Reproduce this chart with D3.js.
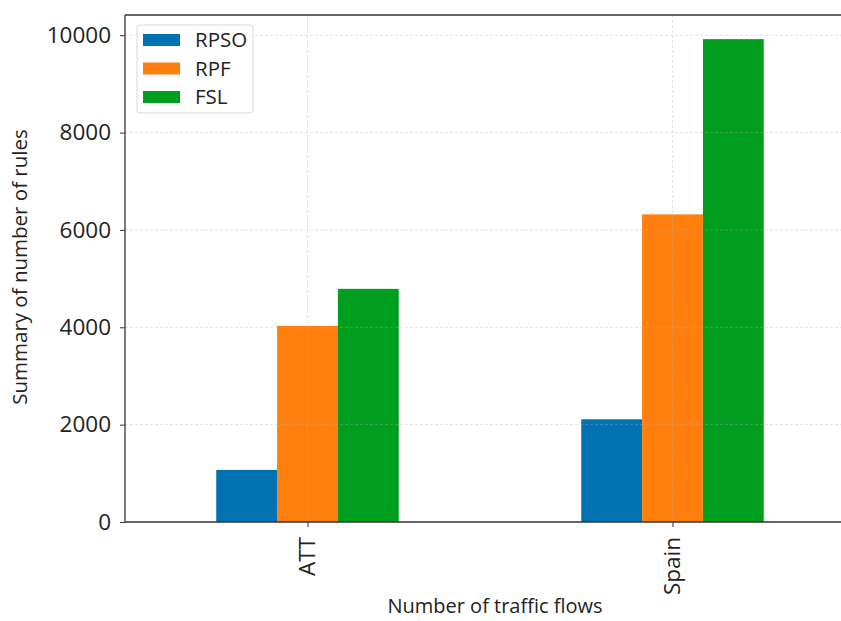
<!DOCTYPE html>
<html>
<head>
<meta charset="utf-8">
<script src="https://cdn.jsdelivr.net/npm/d3@7"></script>
<style>
html,body{margin:0;padding:0;background:#fff;overflow:hidden;}
svg{display:block;}
text{font-family:"Open Sans",sans-serif;fill:#222;}
</style>
</head>
<body>
<svg id="chart" width="841" height="621"></svg>
<script>
const categories = ["ATT", "Spain"];
const seriesNames = ["RPSO", "RPF", "FSL"];
const RPSO = [1070, 2110];
const RPF = [4030, 6320];
const FSL = [4790, 9920];
const yTicks = [0, 2000, 4000, 6000, 8000, 10000];
const colors = ["#0072b2", "#ff7f0e", "#009e1f"];

(function () {
const seriesValues = [RPSO, RPF, FSL];
const svg = d3.select("#chart");
const mLeft = 125, mTop = 15, mBottom = 522;
const unit = 365; // px per category step
const mRight = mLeft + unit * 2; // xlim -0.5 .. 1.5 (extends past the image edge)

const x = d3.scaleLinear().domain([-0.5, 1.5]).range([mLeft, mRight]);
const y = d3.scaleLinear().domain([0, 10416]).range([mBottom, mTop]);
const barW = 0.5 / 3;

// bars
seriesValues.forEach((vals, si) => {
  svg.append("g").selectAll("rect").data(vals).join("rect")
    .attr("x", (d, i) => x(i - 0.25 + si * barW))
    .attr("width", x(barW) - x(0))
    .attr("y", d => y(d))
    .attr("height", d => y(0) - y(d))
    .attr("fill", colors[si]);
});

// grid on top, faint dashed
const grid = svg.append("g").attr("stroke", "#b0b0b0").attr("stroke-opacity", 0.45)
  .attr("stroke-dasharray", "3,2").attr("stroke-width", 0.8);
yTicks.slice(1).forEach(t => {
  grid.append("line").attr("x1", mLeft).attr("x2", mRight).attr("y1", y(t)).attr("y2", y(t));
});
categories.forEach((c, i) => {
  grid.append("line").attr("x1", x(i)).attr("x2", x(i)).attr("y1", mTop).attr("y2", mBottom);
});

// axes
const yAxis = d3.axisLeft(y).tickValues(yTicks).tickSize(5).tickPadding(9).tickFormat(d3.format("d"));
const gy = svg.append("g").attr("transform", `translate(${mLeft},0)`).call(yAxis);
gy.select(".domain").remove();
gy.selectAll("line").attr("stroke", "#333");
gy.selectAll("text").attr("font-size", 22.5).attr("font-family", "Open Sans").attr("fill", "#222");

const xAxis = d3.axisBottom(x).tickValues([0, 1]).tickFormat(i => categories[i]).tickSize(5).tickPadding(6);
const gx = svg.append("g").attr("transform", `translate(0,${mBottom})`).call(xAxis);
gx.select(".domain").remove();
gx.selectAll("line").attr("stroke", "#333");
gx.selectAll("text").attr("font-size", 22.5).attr("font-family", "Open Sans").attr("fill", "#222")
  .attr("transform", "rotate(-90)").attr("text-anchor", "end").attr("dy", "0.32em")
  .attr("x", -15).attr("y", 0);

// spines (left, top, bottom; right spine lies beyond the image edge)
const sp = svg.append("g").attr("stroke", "#333").attr("stroke-width", 1.3);
sp.append("line").attr("x1", mLeft).attr("x2", mLeft).attr("y1", mTop).attr("y2", mBottom);
sp.append("line").attr("x1", mLeft).attr("x2", mRight).attr("y1", mTop).attr("y2", mTop);
sp.append("line").attr("x1", mLeft).attr("x2", mRight).attr("y1", mBottom).attr("y2", mBottom);

// axis labels
svg.append("text").attr("x", 495).attr("y", 613).attr("text-anchor", "middle")
  .attr("font-size", 20).text("Number of traffic flows");
svg.append("text").attr("transform", "translate(27,267) rotate(-90)").attr("text-anchor", "middle")
  .attr("font-size", 20.5).text("Summary of number of rules");

// legend
const lg = svg.append("g").attr("transform", "translate(137,25)");
lg.append("rect").attr("width", 116).attr("height", 88).attr("rx", 3)
  .attr("fill", "#fff").attr("fill-opacity", 0.85).attr("stroke", "#d8d8d8");
seriesNames.forEach((n, i) => {
  const row = lg.append("g").attr("transform", `translate(0,${15 + i * 28.5})`);
  row.append("rect").attr("x", 6).attr("y", -6).attr("width", 37).attr("height", 12).attr("fill", colors[i]);
  row.append("text").attr("x", 58).attr("y", 0).attr("dy", "0.35em").attr("font-size", 20.5).text(n);
});
})();
</script>
</body>
</html>
